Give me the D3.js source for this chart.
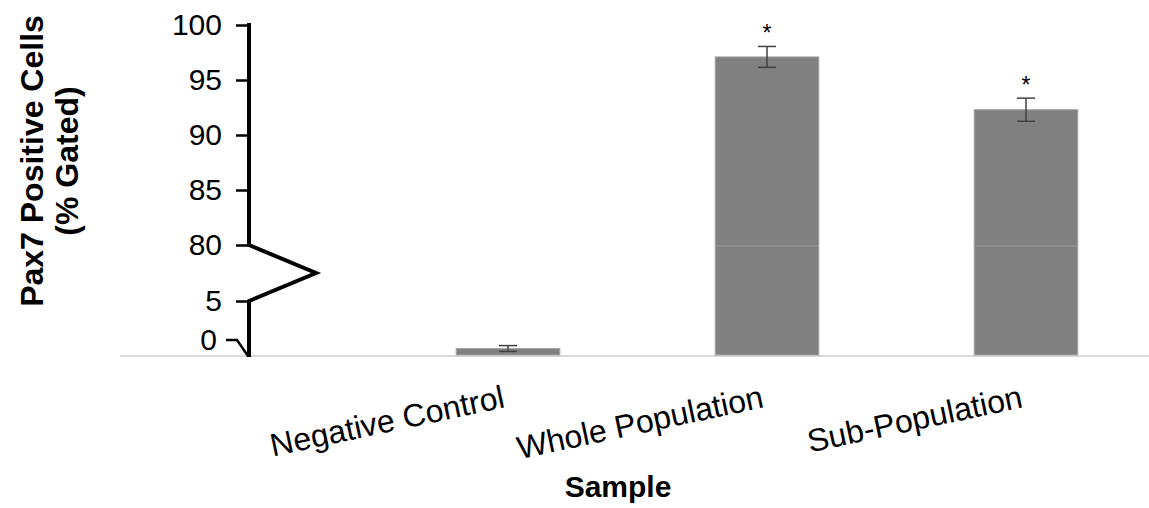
<!DOCTYPE html>
<html>
<head>
<meta charset="utf-8">
<script src="https://cdnjs.cloudflare.com/ajax/libs/d3/7.8.5/d3.min.js"></script>
<style>
  body { margin: 0; background: #fff; }
  svg { display: block; font-family: "Liberation Sans", Arial, sans-serif; }
</style>
</head>
<body>
<svg id="viz"></svg>
<script>
var width = 1149;
var height = 508;

// data
var categories = ["Negative Control", "Whole Population", "Sub-Population"];
var values = [0.6, 97.1, 92.3];
var errors = [0.27, 0.95, 1.05];
var significant = [false, true, true];
var upperTicks = [80, 85, 90, 95, 100];
var lowerTicks = [5];

var axisX = 249;
var baseY = 355;

var svg = d3.select("#viz").attr("width", width).attr("height", height);

// broken y axis: two scales
var yUp = d3.scaleLinear().domain([80, 100]).range([245, 25]);
var yLow = d3.scaleLinear().domain([0, 5]).range([baseY, 301]);

function yVal(v) {
    return v >= 80 ? yUp(v) : yLow(v);
}

var x = d3.scaleBand()
    .domain(categories)
    .range([378.5, 1155.5])
    .paddingInner(0.6)
    .paddingOuter(0.3);

// light baseline
svg.append("line")
    .attr("x1", 120).attr("x2", width)
    .attr("y1", baseY + 1).attr("y2", baseY + 1)
    .style("stroke", "#d9d9d9")
    .style("stroke-width", 2);

var data = categories.map(function(c, i) {
    return {cat: c, val: values[i], err: errors[i], sig: significant[i]};
});

// bars
svg.append("g").selectAll("rect")
    .data(data)
    .enter()
    .append("rect")
    .attr("x", function(d) { return x(d.cat); })
    .attr("width", x.bandwidth())
    .attr("y", function(d) { return yVal(d.val); })
    .attr("height", function(d) { return baseY - yVal(d.val); })
    .style("fill", "#808080")
    .style("stroke", "#a6a6a6")
    .style("stroke-width", 1);

// faint line where the axis is broken
svg.append("g").selectAll("line")
    .data(data.filter(function(d) { return d.val >= 80; }))
    .enter()
    .append("line")
    .attr("x1", function(d) { return x(d.cat) + 1; })
    .attr("x2", function(d) { return x(d.cat) + x.bandwidth() - 1; })
    .attr("y1", yUp(80) + 1).attr("y2", yUp(80) + 1)
    .style("stroke", "#9a9a9a")
    .style("stroke-width", 1);

// error bars
var eb = svg.append("g").selectAll("g")
    .data(data)
    .enter()
    .append("g")
    .attr("transform", function(d) { return "translate(" + (x(d.cat) + x.bandwidth() / 2) + ",0)"; })
    .style("stroke", "#404040")
    .style("stroke-width", 1.5);
eb.append("line")
    .attr("y1", function(d) { return yVal(d.val + d.err); })
    .attr("y2", function(d) { return yVal(d.val - d.err); });
eb.append("line")
    .attr("x1", -9).attr("x2", 9)
    .attr("y1", function(d) { return yVal(d.val + d.err); })
    .attr("y2", function(d) { return yVal(d.val + d.err); });
eb.append("line")
    .attr("x1", -9).attr("x2", 9)
    .attr("y1", function(d) { return yVal(d.val - d.err); })
    .attr("y2", function(d) { return yVal(d.val - d.err); });

// significance stars
svg.append("g").selectAll("text")
    .data(data.filter(function(d) { return d.sig; }))
    .enter()
    .append("text")
    .attr("x", function(d) { return x(d.cat) + x.bandwidth() / 2; })
    .attr("y", function(d) { return yVal(d.val + d.err) - 5; })
    .attr("text-anchor", "middle")
    .style("font-size", "23px")
    .style("fill", "#000")
    .text("*");

// y axis ticks
var upAxis = svg.append("g")
    .attr("transform", "translate(" + axisX + ",0)")
    .call(d3.axisLeft(yUp).tickValues(upperTicks).tickSize(13).tickPadding(14));
var lowAxis = svg.append("g")
    .attr("transform", "translate(" + axisX + ",0)")
    .call(d3.axisLeft(yLow).tickValues(lowerTicks).tickFormat(d3.format("d")).tickSize(13).tickPadding(14));
[upAxis, lowAxis].forEach(function(a) {
    a.select(".domain").remove();
    a.selectAll(".tick line").style("stroke", "#000").style("stroke-width", 2.5);
    a.selectAll(".tick text")
        .style("font-size", "30px")
        .style("font-family", "'Liberation Sans', Arial, sans-serif")
        .style("fill", "#000");
});

// the axis line with its zigzag break
var axisLine = d3.line();
svg.append("path")
    .attr("d", axisLine([
        [axisX, yUp(100) - 2],
        [axisX, yUp(80)],
        [axisX + 67, (yUp(80) + yLow(5)) / 2],
        [axisX, yLow(5)],
        [axisX, baseY + 2]
    ]))
    .style("fill", "none")
    .style("stroke", "#000")
    .style("stroke-width", 4)
    .style("stroke-linejoin", "miter");

// "0" label with its hook down to the baseline
svg.append("text")
    .attr("x", 217)
    .attr("y", yLow(0) - 15)
    .attr("dy", "0.32em")
    .attr("text-anchor", "end")
    .style("font-size", "30px")
    .text("0");
svg.append("path")
    .attr("d", axisLine([[226, yLow(0) - 15], [237, yLow(0) - 15], [axisX - 1, baseY + 1]]))
    .style("fill", "none")
    .style("stroke", "#000")
    .style("stroke-width", 2.5);

// category labels, slanted
svg.append("g").selectAll("text")
    .data(categories)
    .enter()
    .append("text")
    .attr("transform", function(d) {
        return "translate(" + (x(d) + x.bandwidth() / 2 - 2) + "," + 407 + ") rotate(-12)";
    })
    .attr("text-anchor", "end")
    .style("font-size", "32px")
    .text(function(d) { return d; });

// axis titles
svg.append("text")
    .attr("x", 618).attr("y", 497)
    .attr("text-anchor", "middle")
    .style("font-size", "30px")
    .style("font-weight", "bold")
    .text("Sample");

var ytitle = svg.append("text")
    .attr("transform", "translate(43,161) rotate(-90)")
    .attr("text-anchor", "middle")
    .style("font-size", "32px")
    .style("font-weight", "bold");
ytitle.append("tspan").attr("x", 0).attr("y", 0).text("Pax7 Positive Cells");
ytitle.append("tspan").attr("x", 0).attr("y", 35).text("(% Gated)");
</script>
</body>
</html>
